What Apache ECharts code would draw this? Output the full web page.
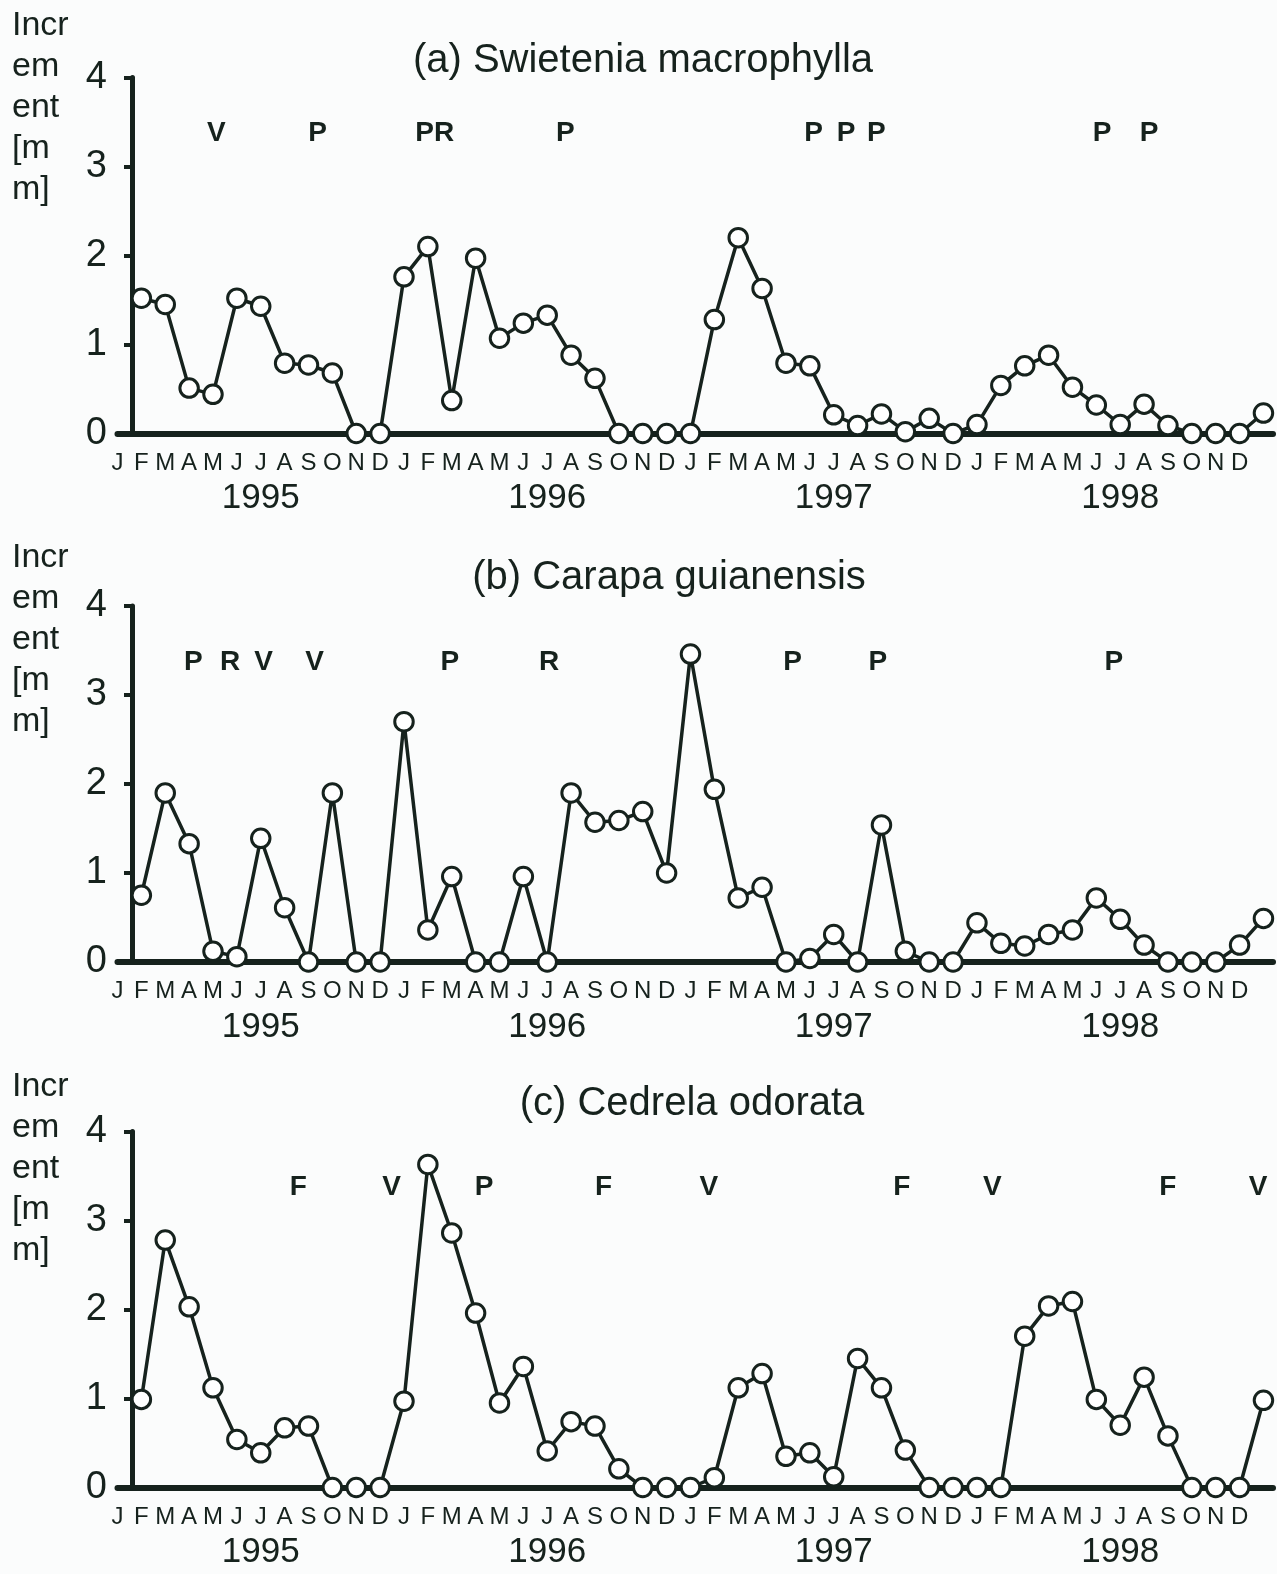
<!DOCTYPE html>
<html>
<head>
<meta charset="utf-8">
<title>Monthly stem increment 1995-1998</title>
<script src="https://cdn.jsdelivr.net/npm/echarts@6/dist/echarts.min.js"></script>
<style>
  html, body { margin: 0; padding: 0; background: #fbfcfc; }
  #chart { width: 1277px; height: 1574px; }
</style>
</head>
<body>
<div id="chart"></div>
<script>
// Month initials and year captions along the time axis
const months = ['J', 'F', 'M', 'A', 'M', 'J', 'J', 'A', 'S', 'O', 'N', 'D'];
const years = ['1995', '1996', '1997', '1998'];
const yTicks = [0, 1, 2, 3, 4];

// Monthly increment [mm], January 1995 - December 1998
const swietenia = [1.52, 1.45, 0.51, 0.44, 1.52, 1.43, 0.79, 0.77, 0.68, 0, 0, 1.76,
                   2.10, 0.37, 1.97, 1.07, 1.24, 1.33, 0.88, 0.62, 0, 0, 0, 0,
                   1.28, 2.20, 1.63, 0.79, 0.76, 0.21, 0.09, 0.22, 0.02, 0.17, 0, 0.10,
                   0.54, 0.76, 0.88, 0.52, 0.32, 0.10, 0.33, 0.09, 0, 0, 0, 0.23];
const carapa = [0.75, 1.90, 1.33, 0.12, 0.06, 1.39, 0.61, 0, 1.90, 0, 0, 2.70,
                0.36, 0.96, 0, 0, 0.96, 0, 1.90, 1.57, 1.59, 1.69, 1.00, 3.46,
                1.94, 0.72, 0.84, 0, 0.04, 0.31, 0, 1.54, 0.12, 0, 0, 0.44,
                0.21, 0.18, 0.31, 0.36, 0.72, 0.48, 0.19, 0, 0, 0, 0.19, 0.49];
const cedrela = [0.99, 2.78, 2.03, 1.12, 0.54, 0.39, 0.67, 0.69, 0, 0, 0, 0.97,
                 3.63, 2.86, 1.96, 0.95, 1.36, 0.41, 0.74, 0.69, 0.21, 0, 0, 0,
                 0.11, 1.12, 1.28, 0.35, 0.39, 0.12, 1.45, 1.12, 0.42, 0, 0, 0,
                 0, 1.70, 2.04, 2.09, 0.99, 0.70, 1.24, 0.58, 0, 0, 0, 0.98];

// Phenological events (month position on the time axis, code letter)
const eventsSwietenia = [[4.14, 'V'], [8.38, 'P'], [13.29, 'PR'], [18.76, 'P'],
                         [29.16, 'P'], [30.52, 'P'], [31.78, 'P'], [41.24, 'P'], [43.21, 'P']];
const eventsCarapa = [[3.18, 'P'], [4.72, 'R'], [6.12, 'V'], [8.26, 'V'], [13.92, 'P'],
                      [18.08, 'R'], [28.28, 'P'], [31.85, 'P'], [41.73, 'P']];
const eventsCedrela = [[7.57, 'F'], [11.48, 'V'], [15.35, 'P'], [20.36, 'F'], [24.77, 'V'],
                       [32.85, 'F'], [36.64, 'V'], [43.99, 'F'], [47.78, 'V']];

const titles = ['(a) Swietenia macrophylla', '(b) Carapa guianensis', '(c) Cedrela odorata'];
const yAxisName = 'Incr\nem\nent\n[m\nm]';

// Layout of the three stacked panels
const ink = '#16221d';
const font = '"Liberation Sans", Arial, Helvetica, sans-serif';
const panels = [
  { values: swietenia, events: eventsSwietenia, top: 77.5, titleX: 643, titleTop: 41, nameTop: 5 },
  { values: carapa, events: eventsCarapa, top: 606, titleX: 669, titleTop: 558, nameTop: 537 },
  { values: cedrela, events: eventsCedrela, top: 1131.5, titleX: 692, titleTop: 1084, nameTop: 1066 }
];
const gridLeft = 117.5;
const gridWidth = 1155.5;
const gridHeight = 356;
const xMax = 48.4;
const eventLevel = 3.37;

function monthLabel(v) {
  const r = Math.round(v);
  if (Math.abs(v - r) > 1e-6 || r < 0 || r >= months.length * years.length) return '';
  const m = r % 12;
  let s = '{m|' + months[m] + '}';
  if (m === 6) s += '\n{y|' + years[Math.floor(r / 12)] + '}';
  return s;
}

const option = {
  backgroundColor: '#fbfcfc',
  animation: false,
  title: panels.map((p, k) => ({
    text: titles[k],
    left: p.titleX,
    top: p.titleTop,
    textAlign: 'center',
    padding: 0,
    textStyle: { fontFamily: font, fontSize: 40, fontWeight: 'normal', color: ink, lineHeight: 40 }
  })),
  graphic: panels.map(p => ({
    type: 'text',
    left: 12,
    top: p.nameTop,
    style: { text: yAxisName, fontFamily: font, fontSize: 34, lineHeight: 41, fill: ink }
  })),
  grid: panels.map(p => ({
    left: gridLeft, width: gridWidth, top: p.top, height: gridHeight, containLabel: false
  })),
  xAxis: panels.map((p, k) => ({
    gridIndex: k,
    type: 'value',
    min: 0,
    max: xMax,
    interval: 1,
    axisLine: { show: true, onZero: false, lineStyle: { color: ink, width: 6 } },
    axisTick: { show: false },
    splitLine: { show: false },
    axisLabel: {
      margin: 17,
      color: ink,
      fontFamily: font,
      fontSize: 24,
      formatter: monthLabel,
      rich: {
        m: { fontFamily: font, fontSize: 24, lineHeight: 25, color: ink },
        y: { fontFamily: font, fontSize: 35, lineHeight: 46, color: ink }
      }
    }
  })),
  yAxis: panels.map((p, k) => ({
    gridIndex: k,
    type: 'value',
    min: yTicks[0],
    max: yTicks[yTicks.length - 1],
    interval: 1,
    offset: -14.5,
    axisLine: { show: true, onZero: false, lineStyle: { color: ink, width: 5 } },
    axisTick: { show: true, length: 8, lineStyle: { color: ink, width: 4 } },
    splitLine: { show: false },
    axisLabel: { margin: 25, fontFamily: font, fontSize: 38, color: ink }
  })),
  series: []
};

panels.forEach((p, k) => {
  option.series.push({
    type: 'line',
    xAxisIndex: k,
    yAxisIndex: k,
    data: p.values.map((v, i) => [i + 1, v]),
    symbol: 'circle',
    symbolSize: 18.5,
    showAllSymbol: true,
    clip: false,
    z: 3,
    lineStyle: { color: ink, width: 3.5 },
    itemStyle: { color: '#ffffff', borderColor: ink, borderWidth: 3 }
  });
  // Event codes: invisible anchor points carrying a bold letter label
  option.series.push({
    type: 'scatter',
    xAxisIndex: k,
    yAxisIndex: k,
    data: p.events.map(e => [e[0], eventLevel, e[1]]),
    symbol: 'circle',
    symbolSize: 0,
    itemStyle: { color: ink, opacity: 1 },
    z: 4,
    label: {
      show: true,
      position: 'inside',
      formatter: q => q.data[2],
      fontFamily: font,
      fontSize: 28,
      fontWeight: 'bold',
      color: ink,
      opacity: 1,
      textBorderWidth: 0
    }
  });
});

const chart = echarts.init(document.getElementById('chart'), null, { renderer: 'canvas' });
chart.setOption(option);
</script>
</body>
</html>
